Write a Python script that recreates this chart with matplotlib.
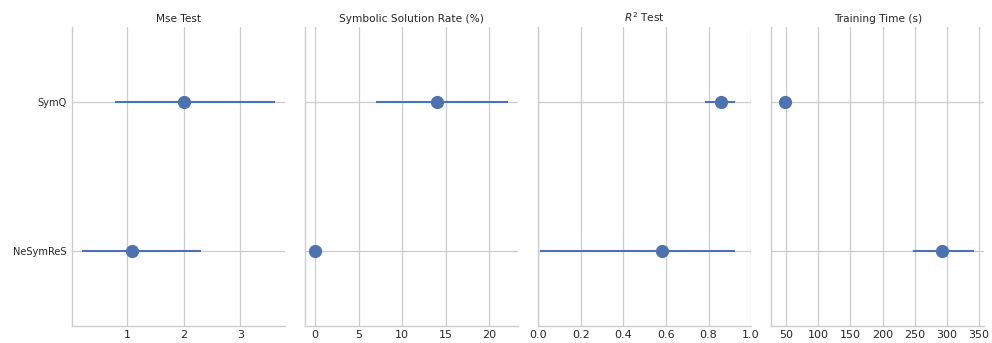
import numpy as np
import matplotlib
matplotlib.use("Agg")
import matplotlib.pyplot as plt
import seaborn as sns

sns.set_theme(style="whitegrid")
plt.rcParams['font.family'] = ['DejaVu Sans']

models = ["SymQ", "NeSymReS"]
titles = ["Mse Test", "Symbolic Solution Rate (%)", "$R^2$ Test", "Training Time (s)"]

# point estimate and CI bounds, per metric, in model order
mse_mean = [2.0, 1.08]
mse_lo = [0.78, 0.20]
mse_hi = [3.62, 2.31]

ssr_mean = [14.0, 0.0]
ssr_lo = [7.0, 0.0]
ssr_hi = [22.2, 0.0]

r2_mean = [0.86, 0.58]
r2_lo = [0.783, 0.009]
r2_hi = [0.925, 0.925]

time_mean = [48.0, 292.0]
time_lo = [42.0, 248.0]
time_hi = [54.0, 343.0]

metrics = [
    (mse_mean, mse_lo, mse_hi),
    (ssr_mean, ssr_lo, ssr_hi),
    (r2_mean, r2_lo, r2_hi),
    (time_mean, time_lo, time_hi),
]

blue = "#4c72b0"

fig, axes = plt.subplots(1, 4, figsize=(9.92, 3.43), dpi=100, sharey=True)
plt.subplots_adjust(left=0.073, right=0.992, bottom=0.05, top=0.921, wspace=0.095)

ypos = np.arange(len(models))
for ax, title, (m, lo, hi) in zip(axes, titles, metrics):
    m = np.array(m)
    lo = np.array(lo)
    hi = np.array(hi)
    for y, a, b in zip(ypos, lo, hi):
        ax.plot([a, b], [y, y], color=blue, lw=1.5, solid_capstyle="butt", zorder=3)
    ax.plot(m, ypos, "o", color=blue, ms=8.5, zorder=4, linestyle="none")
    ax.set_title(title, fontsize=7.6, color=".15", pad=4)
    ax.set_ylim(1.5, -0.5)
    ax.set_yticks(ypos)
    ax.set_yticklabels(models)
    ax.tick_params(axis="x", labelsize=8, length=0, pad=3, colors=".15")
    ax.tick_params(axis="y", labelsize=7.1, length=0, pad=4.5, colors=".15")
    ax.grid(True, color=".8", lw=0.9)
    for s in ["top", "right"]:
        ax.spines[s].set_visible(False)
    for s in ["left", "bottom"]:
        ax.spines[s].set_color(".8")
        ax.spines[s].set_linewidth(1)

axes[2].set_xlim(0, 1)
axes[2].set_xticks([0.0, 0.2, 0.4, 0.6, 0.8, 1.0])
axes[3].set_xticks([50, 100, 150, 200, 250, 300, 350])

for ax in axes[1:]:
    ax.tick_params(axis="y", labelleft=False)

fig.savefig("out.png", dpi=100)
